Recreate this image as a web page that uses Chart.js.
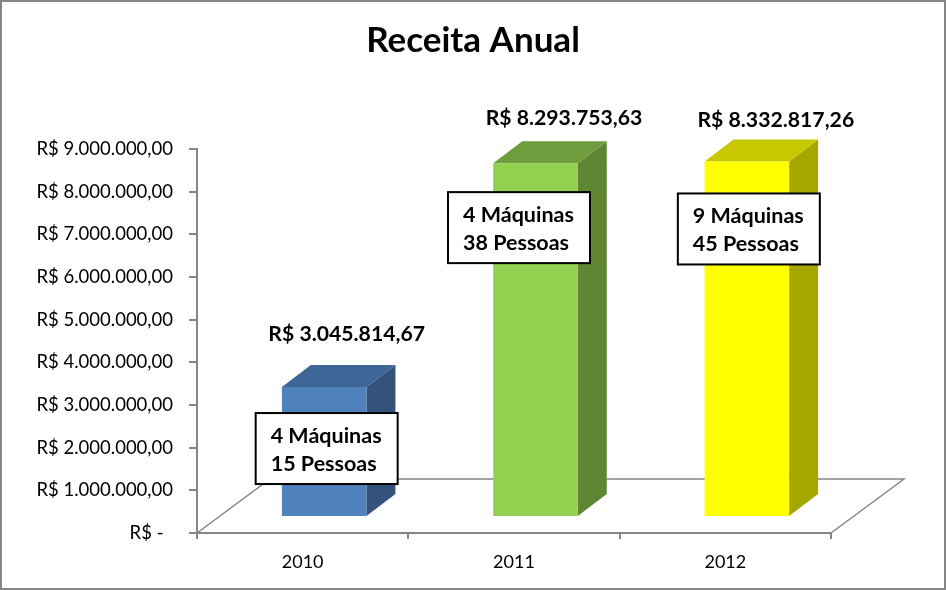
<!DOCTYPE html>
<html>
<head>
<meta charset="utf-8">
<title>Receita Anual</title>
<script src="https://cdn.jsdelivr.net/npm/chart.js@4"></script>
<style>
  html, body { margin: 0; padding: 0; background: #fff; }
  #wrap { width: 946px; height: 590px; }
</style>
</head>
<body>
<div id="wrap"><canvas id="receitaChart" width="946" height="590"></canvas></div>
<script>
// data
var years = ['2010', '2011', '2012'];
var receita = [3045814.67, 8293753.63, 8332817.26];
var receitaLabels = ['R$ 3.045.814,67', 'R$ 8.293.753,63', 'R$ 8.332.817,26'];
var notes = [
  ['4 Máquinas', '15 Pessoas'],
  ['4 Máquinas', '38 Pessoas'],
  ['9 Máquinas', '45 Pessoas']
];
var yTickLabels = ['R$ -\u00a0\u00a0', 'R$ 1.000.000,00', 'R$ 2.000.000,00', 'R$ 3.000.000,00', 'R$ 4.000.000,00',
  'R$ 5.000.000,00', 'R$ 6.000.000,00', 'R$ 7.000.000,00', 'R$ 8.000.000,00', 'R$ 9.000.000,00'];

// colours
var frontColors = ['#4f81bd', '#92d050', '#ffff00'];
var topColors = ['#3d6595', '#6f9d3d', '#c8c800'];
var sideColors = ['#33527c', '#5f8733', '#a6a600'];
var axisColor = '#868686';

// 3d look, in pixels
var font = 'Lato';
var frontShift = { x: 21.5, y: -16 };
var depth = { x: 29, y: -22 };
var floorDepth = { x: 73, y: -54 };
// label centre and note box corner, relative to the bar's front top
var labelOffsets = [{ x: 22.5, y: -53 }, { x: 28.5, y: -45 }, { x: 29, y: -41 }];
var boxOffsets = [{ x: -68.5, y: 26 }, { x: -87.5, y: 29 }, { x: -69, y: 32 }];
var boxSize = { w: 142, h: 71 };

function poly(ctx, pts, fill) {
  ctx.beginPath();
  ctx.moveTo(pts[0][0], pts[0][1]);
  for (var i = 1; i < pts.length; i++) ctx.lineTo(pts[i][0], pts[i][1]);
  ctx.closePath();
  ctx.fillStyle = fill;
  ctx.fill();
}

// outer frame of the chart
const frame = {
  id: 'frame',
  // title is centred on the whole picture, not on the plot side
  afterLayout(chart) {
    chart.titleBlock.left = 0;
    chart.titleBlock.right = chart.width;
  },
  beforeDraw(chart) {
    const ctx = chart.ctx;
    ctx.save();
    ctx.fillStyle = '#fff';
    ctx.fillRect(0, 0, chart.width, chart.height);
    ctx.strokeStyle = axisColor;
    ctx.lineWidth = 2;
    ctx.strokeRect(1, 1, chart.width - 2, chart.height - 2);
    ctx.restore();
  }
};

// floor lines behind the bars
const floor = {
  id: 'floor',
  beforeDatasetsDraw(chart) {
    const ctx = chart.ctx, a = chart.chartArea;
    ctx.save();
    ctx.strokeStyle = axisColor;
    ctx.lineWidth = 1.5;
    ctx.beginPath();
    ctx.moveTo(a.left, a.bottom);
    ctx.lineTo(a.left + floorDepth.x, a.bottom + floorDepth.y);
    ctx.lineTo(a.right + floorDepth.x, a.bottom + floorDepth.y);
    ctx.lineTo(a.right, a.bottom);
    ctx.stroke();
    ctx.restore();
  }
};

// top and side faces, then the library draws the front shifted onto the floor
const bars3d = {
  id: 'bars3d',
  beforeDatasetDraw(chart, args) {
    const ctx = chart.ctx;
    chart.getDatasetMeta(args.index).data.forEach(function (bar, i) {
      var l = bar.x - bar.width / 2 + frontShift.x;
      var r = bar.x + bar.width / 2 + frontShift.x;
      var t = bar.y + frontShift.y;
      var b = bar.base + frontShift.y;
      poly(ctx, [[r, t], [r + depth.x, t + depth.y], [r + depth.x, b + depth.y], [r, b]], sideColors[i]);
      poly(ctx, [[l, t], [l + depth.x, t + depth.y], [r + depth.x, t + depth.y], [r, t]], topColors[i]);
    });
    ctx.save();
    ctx.translate(frontShift.x, frontShift.y);
  },
  afterDatasetDraw(chart) {
    chart.ctx.restore();
  }
};

// value labels and the white note boxes
const annotations = {
  id: 'annotations',
  afterDatasetsDraw(chart) {
    const ctx = chart.ctx;
    ctx.save();
    chart.getDatasetMeta(0).data.forEach(function (bar, i) {
      var fx = bar.x + frontShift.x, fy = bar.y + frontShift.y;
      ctx.fillStyle = '#000';
      ctx.textAlign = 'center';
      ctx.textBaseline = 'middle';
      ctx.font = 'bold 21.2px ' + font;
      ctx.fillText(receitaLabels[i], fx + labelOffsets[i].x, fy + labelOffsets[i].y);

      var bx = fx + boxOffsets[i].x, by = fy + boxOffsets[i].y;
      ctx.fillStyle = '#fff';
      ctx.fillRect(bx, by, boxSize.w, boxSize.h);
      ctx.strokeStyle = '#000';
      ctx.lineWidth = 2;
      ctx.strokeRect(bx, by, boxSize.w, boxSize.h);
      ctx.fillStyle = '#000';
      ctx.textAlign = 'left';
      ctx.textBaseline = 'alphabetic';
      ctx.font = 'bold 21.5px ' + font;
      ctx.fillText(notes[i][0], bx + 15, by + 30);
      ctx.fillText(notes[i][1], bx + 15, by + 58);
    });
    ctx.restore();
  }
};

new Chart(document.getElementById('receitaChart').getContext('2d'), {
  type: 'bar',
  data: {
    labels: years,
    datasets: [{
      data: receita,
      backgroundColor: frontColors,
      borderWidth: 0,
      barPercentage: 0.4,
      categoryPercentage: 1
    }]
  },
  options: {
    responsive: false,
    animation: false,
    layout: { padding: { right: 115 } },
    plugins: {
      legend: { display: false },
      tooltip: { enabled: false },
      title: {
        display: true,
        text: 'Receita Anual',
        color: '#000',
        fullSize: true,
        font: { family: font, size: 35, weight: 'bold', lineHeight: 1.2 },
        padding: { top: 20, bottom: 87 }
      }
    },
    scales: {
      x: {
        afterFit(scale) { scale.height = 57; },
        border: { color: axisColor, width: 2 },
        grid: { drawOnChartArea: false, color: axisColor, lineWidth: 2, tickLength: 6 },
        ticks: { color: '#000', font: { family: font, size: 18 }, padding: 12, maxRotation: 0 }
      },
      y: {
        min: 0,
        max: 9000000,
        afterFit(scale) { scale.width = 197; },
        border: { color: axisColor, width: 2 },
        grid: { drawOnChartArea: false, color: axisColor, lineWidth: 2, tickLength: 8 },
        ticks: {
          stepSize: 1000000,
          color: '#000',
          font: { family: font, size: 18.5 },
          padding: 16,
          callback: function (v, i) { return yTickLabels[i]; }
        }
      }
    }
  },
  plugins: [frame, floor, bars3d, annotations]
});
</script>
</body>
</html>
